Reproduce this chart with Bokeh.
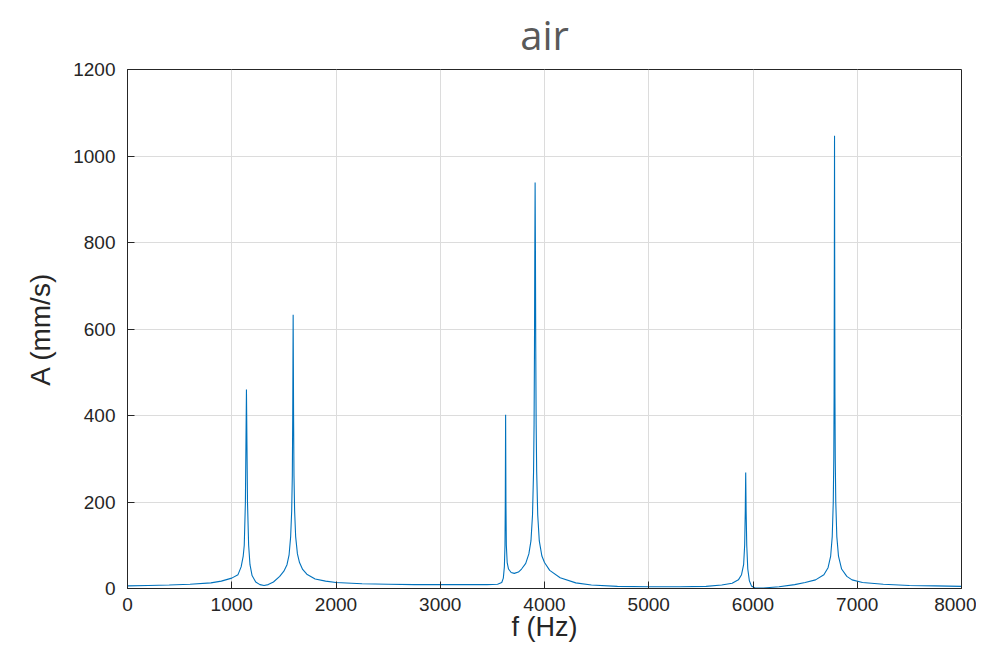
from bokeh.plotting import figure
from bokeh.models import FixedTicker, Range1d
from bokeh.embed import file_html
from bokeh.resources import INLINE

# Frequency (Hz) and amplitude (mm/s)
f_hz = [0, 200, 400, 600, 800, 900, 1000, 1060, 1090, 1110,
        1120, 1131, 1136, 1141, 1146, 1151, 1162, 1175, 1195, 1230,
        1270, 1310, 1350, 1400, 1460, 1500, 1530, 1550, 1565, 1575,
        1581, 1585, 1587, 1589, 1591, 1593, 1597, 1603, 1613, 1630,
        1650, 1680, 1720, 1800, 1900, 2000, 2250, 2500, 2750, 3000,
        3250, 3450, 3550, 3590, 3605, 3615, 3621, 3624, 3627, 3630,
        3634, 3642, 3655, 3680, 3710, 3750, 3780, 3820, 3850, 3870,
        3885, 3895, 3900, 3904, 3907, 3910, 3913, 3916, 3920, 3925,
        3935, 3950, 3975, 4000, 4050, 4150, 4300, 4450, 4700, 5000,
        5300, 5550, 5700, 5800, 5860, 5890, 5910, 5920, 5926, 5930,
        5934, 5940, 5950, 5965, 5985, 6020, 6100, 6250, 6400, 6500,
        6600, 6680, 6720, 6745, 6760, 6770, 6775, 6778, 6780, 6782,
        6784, 6786, 6789, 6794, 6804, 6820, 6850, 6900, 6950, 7050,
        7250, 7500, 7750, 8000]
amp = [6, 7, 8, 10, 13, 17, 24, 32, 50, 75,
       100, 200, 330, 460, 330, 200, 100, 55, 30, 15,
       9, 7, 9, 15, 28, 40, 55, 78, 120, 180,
       260, 400, 520, 633, 520, 400, 260, 180, 120, 80,
       60, 44, 33, 22, 17, 14, 11, 10, 9, 9,
       9, 9, 10, 14, 24, 50, 100, 200, 402, 200,
       100, 60, 45, 37, 35, 38, 45, 58, 80, 110,
       170, 270, 380, 560, 780, 939, 780, 560, 380, 270,
       170, 110, 75, 60, 42, 25, 13, 8, 5, 4,
       4, 5, 8, 12, 20, 32, 55, 100, 180, 268,
       180, 100, 45, 18, 6, 1, 1, 4, 9, 14,
       20, 32, 48, 75, 120, 200, 300, 450, 700, 1047,
       700, 450, 300, 200, 120, 75, 45, 28, 20, 14,
       10, 7, 6, 5]

x_ticks = [0, 1000, 2000, 3000, 4000, 5000, 6000, 7000, 8000]
y_ticks = [0, 200, 400, 600, 800, 1000, 1200]

p = figure(width=976, height=644, output_backend="svg", toolbar_location=None,
           x_range=Range1d(0, 8000), y_range=Range1d(0, 1200),
           title="air", x_axis_label="f (Hz)", y_axis_label="A (mm/s)",
           min_border_left=127, min_border_right=15, min_border_top=69,
           min_border_bottom=56)

p.line(f_hz, amp, line_color="#0072BD", line_width=1.1)

p.title.align = "center"
p.title.vertical_align = "top"
p.title.text_font = "Open Sans"
p.title.text_font_size = "40px"
p.title.text_font_style = "normal"
p.title.text_color = "#595959"
p.title.standoff = 11

p.outline_line_color = "#262626"
p.outline_line_width = 1
p.outline_line_alpha = 1

p.xaxis.ticker = FixedTicker(ticks=x_ticks)
p.yaxis.ticker = FixedTicker(ticks=y_ticks)

for ax in (p.xaxis, p.yaxis):
    ax.axis_line_color = "#262626"
    ax.major_tick_line_color = "#262626"
    ax.major_tick_in = 7
    ax.major_tick_out = 0
    ax.minor_tick_line_color = None
    ax.major_label_text_font = "Liberation Sans"
    ax.major_label_text_font_size = "19px"
    ax.major_label_text_color = "#262626"
    ax.axis_label_text_font = "Liberation Sans"
    ax.axis_label_text_font_style = "normal"
    ax.axis_label_text_color = "#262626"

p.xaxis.axis_label_text_font_size = "27px"
p.yaxis.axis_label_text_font_size = "28px"
p.xaxis.major_label_standoff = 9
p.xaxis.axis_label_standoff = -2
p.yaxis.major_label_standoff = 12
p.yaxis.axis_label_standoff = 14

p.grid.grid_line_color = "#dcdcdc"
p.grid.grid_line_width = 1
p.background_fill_color = "white"
p.border_fill_color = "white"

open("out.html", "w").write(file_html(p, INLINE))
